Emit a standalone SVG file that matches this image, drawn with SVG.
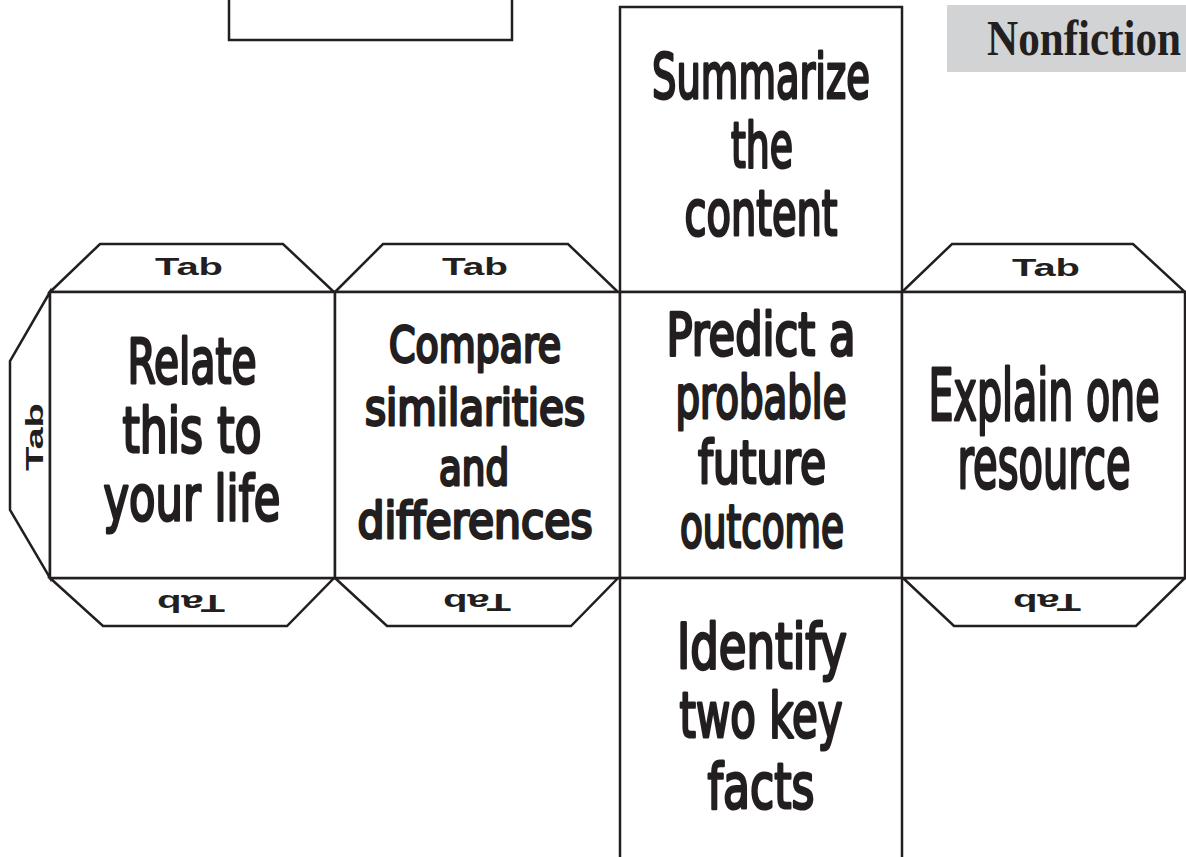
<svg xmlns="http://www.w3.org/2000/svg" width="1186" height="857" viewBox="0 0 1186 857">
<style>
.ln{fill:#ffffff;stroke:#231f20;stroke-width:2.5;stroke-linejoin:miter}
.tab{fill:#ffffff;stroke:#231f20;stroke-width:2.5}
.tt{font-family:"Liberation Sans",Arial,sans-serif;font-weight:bold;font-size:24px;fill:#231f20;text-anchor:middle}
.ft{font-family:"DejaVu Sans","Noto Sans",sans-serif;font-weight:normal;fill:#231f20;stroke:#231f20;stroke-width:3;stroke-linejoin:round;text-anchor:middle}
</style>
<rect x="0" y="0" width="1186" height="857" fill="#ffffff"/>

<g id="top-box">
<rect class="ln" x="229" y="-10" width="283" height="50"/>
</g>

<g id="title">
<rect x="947" y="5" width="245" height="67" fill="#d1d3d4"/>
<text x="987" y="55" font-family="'Liberation Serif','Times New Roman',serif" font-weight="bold" font-size="50" fill="#231f20" textLength="194" lengthAdjust="spacingAndGlyphs">Nonfiction</text>
</g>

<g id="tabs">
<polygon class="tab" points="50,292 100,244 283,244 334,292"/>
<polygon class="tab" points="335,292 383,244 568,244 618,292"/>
<polygon class="tab" points="902,292 952,244 1133,244 1185,292"/>
<polygon class="tab" points="50,578 103,626 287,626 334,578"/>
<polygon class="tab" points="335,578 387,626 571,626 618,578"/>
<polygon class="tab" points="903,578 954,626 1136,626 1185,578"/>
<polygon class="tab" points="50,292 10,361 10,510 50,578"/>
<text class="tt" x="189" y="275" textLength="68" lengthAdjust="spacingAndGlyphs">Tab</text>
<text class="tt" x="475" y="275" textLength="66" lengthAdjust="spacingAndGlyphs">Tab</text>
<text class="tt" x="1046" y="276" textLength="68" lengthAdjust="spacingAndGlyphs">Tab</text>
<text class="tt" transform="translate(191,595) rotate(180)" x="0" y="0" textLength="68" lengthAdjust="spacingAndGlyphs">Tab</text>
<text class="tt" transform="translate(477,594) rotate(180)" x="0" y="0" textLength="68" lengthAdjust="spacingAndGlyphs">Tab</text>
<text class="tt" transform="translate(1047,594) rotate(180)" x="0" y="0" textLength="68" lengthAdjust="spacingAndGlyphs">Tab</text>
<text class="tt" transform="translate(43,437) rotate(-90)" x="0" y="0" textLength="68" lengthAdjust="spacingAndGlyphs">Tab</text>
</g>

<g id="face-relate">
<rect class="ln" x="50" y="292" width="285" height="286"/>
<text class="ft" font-size="63" x="192" y="383" textLength="129" lengthAdjust="spacingAndGlyphs">Relate</text>
<text class="ft" font-size="63" x="192" y="452" textLength="139" lengthAdjust="spacingAndGlyphs">this to</text>
<text class="ft" font-size="63" x="192" y="520" textLength="177" lengthAdjust="spacingAndGlyphs">your life</text>
</g>

<g id="face-compare">
<rect class="ln" x="335" y="292" width="285" height="286"/>
<text class="ft" font-size="49" x="475" y="362" textLength="172" lengthAdjust="spacingAndGlyphs">Compare</text>
<text class="ft" font-size="49" x="475" y="425" textLength="220" lengthAdjust="spacingAndGlyphs">similarities</text>
<text class="ft" font-size="49" x="474" y="485" textLength="70" lengthAdjust="spacingAndGlyphs">and</text>
<text class="ft" font-size="49" x="475" y="538" textLength="235" lengthAdjust="spacingAndGlyphs">differences</text>
</g>

<g id="face-summarize">
<rect class="ln" x="620" y="7" width="282" height="285"/>
<text class="ft" font-size="63" x="761" y="98" textLength="218" lengthAdjust="spacingAndGlyphs">Summarize</text>
<text class="ft" font-size="63" x="762" y="167" textLength="62" lengthAdjust="spacingAndGlyphs">the</text>
<text class="ft" font-size="63" x="761" y="235" textLength="153" lengthAdjust="spacingAndGlyphs">content</text>
</g>

<g id="face-predict">
<rect class="ln" x="620" y="292" width="282" height="286"/>
<text class="ft" font-size="58" x="761" y="355" textLength="189" lengthAdjust="spacingAndGlyphs">Predict a</text>
<text class="ft" font-size="58" x="761" y="418" textLength="171" lengthAdjust="spacingAndGlyphs">probable</text>
<text class="ft" font-size="58" x="762" y="483" textLength="128" lengthAdjust="spacingAndGlyphs">future</text>
<text class="ft" font-size="58" x="762" y="547" textLength="164" lengthAdjust="spacingAndGlyphs">outcome</text>
</g>

<g id="face-explain">
<rect class="ln" x="902" y="292" width="283" height="286"/>
<text class="ft" font-size="71" x="1044" y="420" textLength="231" lengthAdjust="spacingAndGlyphs">Explain one</text>
<text class="ft" font-size="71" x="1044" y="488" textLength="173" lengthAdjust="spacingAndGlyphs">resource</text>
</g>

<g id="face-identify">
<rect class="ln" x="620" y="578" width="282" height="300"/>
<text class="ft" font-size="63" x="762" y="668" textLength="170" lengthAdjust="spacingAndGlyphs">Identify</text>
<text class="ft" font-size="63" x="761" y="737" textLength="163" lengthAdjust="spacingAndGlyphs">two key</text>
<text class="ft" font-size="63" x="761" y="808" textLength="107" lengthAdjust="spacingAndGlyphs">facts</text>
</g>

<g id="connectors"></g>
</svg>
